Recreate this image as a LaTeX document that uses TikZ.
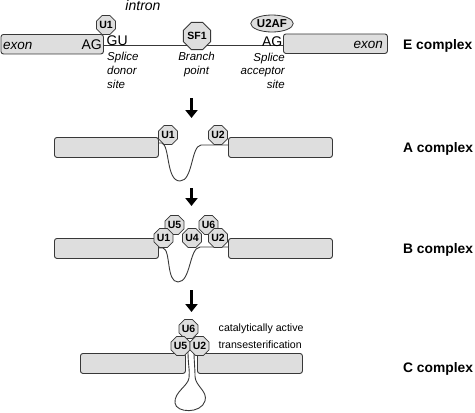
\documentclass[tikz,border=0pt]{standalone}
\usepackage{fontspec}
\setmainfont{Liberation Sans}
\usetikzlibrary{shapes.geometric,arrows.meta}
\definecolor{boxfill}{HTML}{DEDEDE}
\definecolor{edgec}{HTML}{383838}
\begin{document}
\begin{tikzpicture}[x=1pt,y=-1pt,
  exonbox/.style={draw=edgec, fill=boxfill, line width=0.9pt, rounded corners=2.5pt,
    minimum width=104pt, minimum height=20pt, inner sep=0pt, anchor=north west},
  octa/.style={regular polygon, regular polygon sides=8, minimum size=20pt, inner sep=0pt,
    draw=edgec, fill=boxfill, line width=0.8pt, font=\bfseries\fontsize{10.5}{11}\selectfont},
  ovalprot/.style={ellipse, minimum width=36pt, minimum height=17pt, inner sep=0pt,
    draw=edgec, fill=boxfill, line width=0.8pt, font=\bfseries\fontsize{11.5}{12}\selectfont},
  rna/.style={draw=edgec, line width=0.9pt},
  bigarrow/.style={line width=3.6pt, -{Triangle[width=12pt,length=8pt]}},
  lbl/.style={inner sep=0pt, font=\itshape\fontsize{11.5}{13.7}\selectfont},
  seq/.style={inner sep=0pt, font=\fontsize{14}{16}\selectfont},
  cplx/.style={inner sep=0pt, anchor=base west, font=\bfseries\fontsize{13.8}{16}\selectfont}
]
\useasboundingbox (0,0) rectangle (475,413);

% ---------------- E complex ----------------
\coordinate (lineE) at (0,45);
\node[exonbox, minimum width=102.5pt, minimum height=19.5pt] (lbE) at (0.5,34) {};
\node[exonbox, minimum height=19.5pt] (rbE) at (283,33.5) {};
\draw[rna] (lbE.east |- lineE) -- (rbE.west |- lineE);
\node[octa] (u1E) at (106,25) {U1};
\node[octa] (sf1E) at (197,36) {SF1};
\node[ovalprot] (u2afE) at (272,23.5) {U2AF};
\node[seq, font=\itshape\fontsize{13.5}{16}\selectfont, anchor=base west] (exL) at (3,49.3) {exon};
\node[seq, anchor=base east] (agL) at (102,49.8) {AG};
\node[seq, anchor=base west] (gu) at (106.5,45.6) {GU};
\node[seq, anchor=base east] (agR) at (282.5,46.5) {AG};
\node[seq, font=\itshape\fontsize{13.5}{16}\selectfont, anchor=base east] (exR) at (383,48.5) {exon};
\node[seq, font=\itshape\fontsize{14}{16}\selectfont, anchor=base] (intron) at (143,10) {intron};
\node[lbl, anchor=base west, align=left] (donor) at (107,88) {Splice\\donor\\site};
\node[lbl, anchor=base, align=center] (branch) at (196.5,74.5) {Branch\\point};
\node[lbl, anchor=base east, align=right] (acc) at (285,88.5) {Splice\\acceptor\\site};
\node[cplx] (Elab) at (403,49.5) {E complex};

\coordinate (a1s) at (191.5,98);
\coordinate (a1e) at (191.5,118);
\draw[bigarrow] (a1s) -- (a1e);

% ---------------- A complex ----------------
\draw[rna] (158,143) -- (162,143) .. controls (170,146) and (166,181) .. (180,181)
  .. controls (193,181) and (191,146) .. (201,145) -- (228,145);
\node[exonbox] (lbA) at (54,137) {};
\node[exonbox] (rbA) at (228,137) {};
\node[octa] (u1A) at (168,135) {U1};
\node[octa] (u2A) at (218,135) {U2};
\node[cplx] (Alab) at (403,152.5) {A complex};

\coordinate (a2s) at (191.5,188);
\coordinate (a2e) at (191.5,206);
\draw[bigarrow] (a2s) -- (a2e);

% ---------------- B complex ----------------
\draw[rna] (158,248) -- (163,248) .. controls (171,250) and (166,282) .. (178,282)
  .. controls (191,282) and (189,248) .. (200,247) -- (228,247);
\node[exonbox] (lbB) at (54,238) {};
\node[exonbox] (rbB) at (228,238) {};
\node[octa] (u5B) at (174.5,225) {U5};
\node[octa] (u6B) at (208.5,225) {U6};
\node[octa] (u1B) at (163.5,238) {U1};
\node[octa] (u4B) at (192,238) {U4};
\node[octa] (u2B) at (218,238) {U2};
\node[cplx] (Blab) at (403,253.5) {B complex};

\coordinate (a3s) at (191.5,290);
\coordinate (a3e) at (191.5,312);
\draw[bigarrow] (a3s) -- (a3e);

% ---------------- C complex ----------------
\draw[rna] (188,352) .. controls (188,364) and (190,371) .. (189,378)
  .. controls (188,386) and (174,392) .. (175,403)
  .. controls (176,413) and (201,414) .. (205,401)
  .. controls (208,391) and (195,386) .. (195,376)
  .. controls (195,368) and (194,360) .. (194,352);
\node[exonbox, minimum width=105pt] (lbC) at (80,353) {};
\node[exonbox, minimum width=105pt] (rbC) at (197,353) {};
\node[octa] (u6C) at (188.5,329) {U6};
\node[octa] (u5C) at (180.5,346) {U5};
\node[octa] (u2C) at (199.5,346) {U2};
\node[inner sep=0pt, anchor=base west, align=left, font=\fontsize{10.6}{16.6}\selectfont] (cat) at (218.5,348.3)
  {catalytically active\\transesterification};
\node[cplx] (Clab) at (403,372.5) {C complex};
\end{tikzpicture}
\end{document}
